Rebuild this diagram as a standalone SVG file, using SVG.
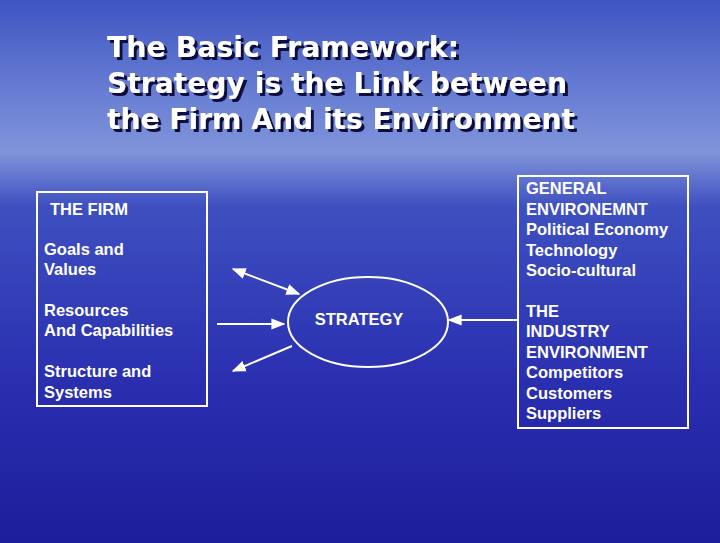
<svg xmlns="http://www.w3.org/2000/svg" width="720" height="543" viewBox="0 0 720 543">
<defs>
<linearGradient id="bg" x1="0" y1="0" x2="0" y2="1">
<stop offset="0" stop-color="#3f55c2"/>
<stop offset="0.18" stop-color="#6a80d4"/>
<stop offset="0.28" stop-color="#8094da"/>
<stop offset="0.38" stop-color="#3e50c0"/>
<stop offset="0.7" stop-color="#2a2fb0"/>
<stop offset="1" stop-color="#1c1d9a"/>
</linearGradient>
<filter id="sh" x="-5%" y="-20%" width="110%" height="140%">
<feDropShadow dx="3" dy="3" stdDeviation="0.3" flood-color="#101040"/>
</filter>
<marker id="ah" viewBox="0 0 10 10" refX="9" refY="5" markerWidth="7" markerHeight="7" orient="auto-start-reverse">
<path d="M0,1 L10,5 L0,9 z" fill="#fff"/>
</marker>
<style>
.t{font-family:"Liberation Sans",Arial,sans-serif;font-weight:bold;font-size:16.5px;fill:#fff}
.ttl{font-family:"DejaVu Sans",sans-serif;font-weight:bold;font-size:28px;fill:#fff}
.box{fill:none;stroke:#fff;stroke-width:2}
.ln{stroke:#fff;stroke-width:2;fill:none}
</style>
</defs>
<rect width="720" height="543" fill="url(#bg)"/>
<g id="title" class="ttl" filter="url(#sh)">
<text x="107" y="57" textLength="352" lengthAdjust="spacingAndGlyphs">The Basic Framework:</text>
<text x="107" y="93" textLength="460" lengthAdjust="spacingAndGlyphs">Strategy is the Link between</text>
<text x="107" y="129" textLength="468" lengthAdjust="spacingAndGlyphs">the Firm And its Environment</text>
</g>
<g id="firm">
<rect class="box" x="37" y="192" width="170" height="214"/>
<text class="t" x="50" y="215">THE FIRM</text>
<text class="t" x="44" y="255">Goals and</text>
<text class="t" x="44" y="275">Values</text>
<text class="t" x="44" y="316">Resources</text>
<text class="t" x="44" y="336">And Capabilities</text>
<text class="t" x="44" y="377">Structure and</text>
<text class="t" x="44" y="398">Systems</text>
</g>
<g id="strategy">
<ellipse class="ln" cx="368" cy="322" rx="80" ry="45"/>
<text class="t" x="359" y="325" text-anchor="middle">STRATEGY</text>
</g>
<g id="env">
<rect class="box" x="518" y="176" width="170" height="252"/>
<text class="t" x="526" y="194">GENERAL</text>
<text class="t" x="526" y="215">ENVIRONEMNT</text>
<text class="t" x="526" y="235">Political Economy</text>
<text class="t" x="526" y="256">Technology</text>
<text class="t" x="526" y="276">Socio-cultural</text>
<text class="t" x="526" y="317">THE</text>
<text class="t" x="526" y="337">INDUSTRY</text>
<text class="t" x="526" y="358">ENVIRONMENT</text>
<text class="t" x="526" y="378">Competitors</text>
<text class="t" x="526" y="399">Customers</text>
<text class="t" x="526" y="419">Suppliers</text>
</g>
<g id="connectors" class="ln">
<line x1="233" y1="269" x2="299" y2="294" marker-start="url(#ah)" marker-end="url(#ah)"/>
<line x1="217" y1="324" x2="284" y2="324" marker-end="url(#ah)"/>
<line x1="292" y1="346" x2="233" y2="371" marker-end="url(#ah)"/>
<line x1="518" y1="320" x2="449" y2="320" marker-end="url(#ah)"/>
</g>
</svg>
